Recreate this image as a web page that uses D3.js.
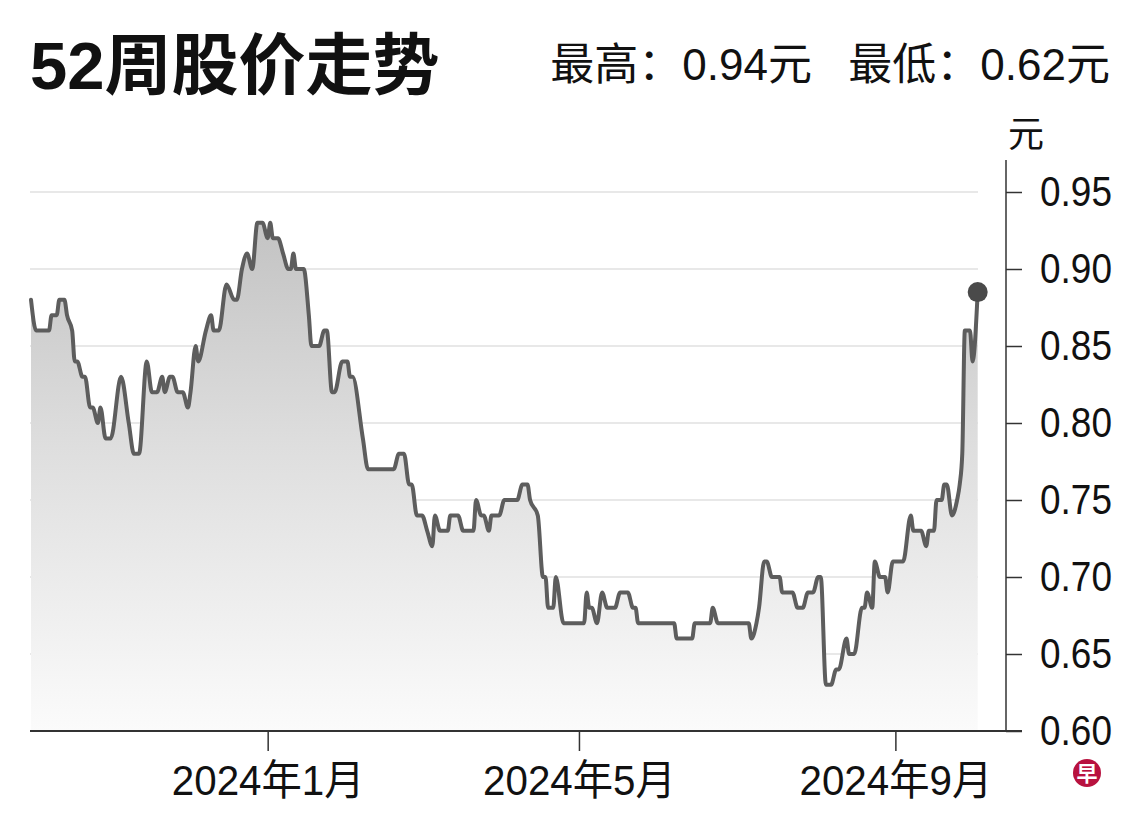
<!DOCTYPE html>
<html>
<head>
<meta charset="utf-8">
<script src="https://cdn.jsdelivr.net/npm/d3@7"></script>
<style>
body { margin: 0; background: #fff; }
svg { display: block; }
text { font-family: "Liberation Sans", "Noto Sans CJK SC", sans-serif; fill: #111; }
.title { font-weight: bold; }
</style>
</head>
<body>
<div class="chartContainer"></div>
<script>
var title = "52周股价走势";
var highLabel = "最高：0.94元", lowLabel = "最低：0.62元";
var unitLabel = "元";

var dates = ["2023-10-01","2023-10-03","2023-10-08","2023-10-09","2023-10-11","2023-10-12","2023-10-14","2023-10-15","2023-10-17","2023-10-18",
	"2023-10-19","2023-10-21","2023-10-22","2023-10-24","2023-10-25","2023-10-27","2023-10-28","2023-10-30","2023-11-01","2023-11-05",
	"2023-11-08","2023-11-10","2023-11-12","2023-11-15","2023-11-17","2023-11-19","2023-11-21","2023-11-22","2023-11-24","2023-11-25",
	"2023-11-27","2023-11-29","2023-12-01","2023-12-02","2023-12-04","2023-12-05","2023-12-08","2023-12-10","2023-12-11","2023-12-13",
	"2023-12-16","2023-12-19","2023-12-20","2023-12-22","2023-12-24","2023-12-26","2023-12-28","2023-12-30","2024-01-01","2024-01-02",
	"2024-01-03","2024-01-05","2024-01-07","2024-01-09","2024-01-10","2024-01-11","2024-01-12","2024-01-15","2024-01-17","2024-01-18",
	"2024-01-21","2024-01-23","2024-01-24","2024-01-26","2024-01-27","2024-01-30","2024-02-01","2024-02-02","2024-02-03","2024-02-07",
	"2024-02-09","2024-02-19","2024-02-21","2024-02-23","2024-02-25","2024-02-26","2024-02-28","2024-03-01","2024-03-03","2024-03-05",
	"2024-03-06","2024-03-08","2024-03-11","2024-03-12","2024-03-15","2024-03-17","2024-03-21","2024-03-22","2024-03-24","2024-03-25",
	"2024-03-27","2024-03-28","2024-03-31","2024-04-02","2024-04-07","2024-04-09","2024-04-11","2024-04-12","2024-04-15","2024-04-17",
	"2024-04-18","2024-04-19","2024-04-21","2024-04-22","2024-04-25","2024-05-03","2024-05-04","2024-05-05","2024-05-06","2024-05-08",
	"2024-05-10","2024-05-12","2024-05-15","2024-05-17","2024-05-20","2024-05-22","2024-05-23","2024-05-24","2024-06-07","2024-06-08",
	"2024-06-14","2024-06-15","2024-06-21","2024-06-22","2024-06-24","2024-07-06","2024-07-07","2024-07-09","2024-07-10","2024-07-12",
	"2024-07-13","2024-07-15","2024-07-18","2024-07-19","2024-07-23","2024-07-25","2024-07-27","2024-07-29","2024-07-31","2024-08-02",
	"2024-08-03","2024-08-05","2024-08-07","2024-08-09","2024-08-10","2024-08-13","2024-08-14","2024-08-16","2024-08-19","2024-08-20",
	"2024-08-21","2024-08-23","2024-08-24","2024-08-26","2024-08-28","2024-08-29","2024-08-31","2024-09-04","2024-09-07","2024-09-08",
	"2024-09-11","2024-09-13","2024-09-14","2024-09-16","2024-09-17","2024-09-19","2024-09-20","2024-09-21","2024-09-23","2024-09-25",
	"2024-09-26","2024-09-27","2024-09-28","2024-09-30","2024-10-01","2024-10-03"];

var closes = [0.88,0.86,0.86,0.87,0.87,0.88,0.88,0.87,0.86,0.84,
	0.84,0.83,0.83,0.81,0.81,0.80,0.81,0.79,0.79,0.83,
	0.80,0.78,0.78,0.84,0.82,0.82,0.83,0.82,0.83,0.83,
	0.82,0.82,0.81,0.82,0.85,0.84,0.86,0.87,0.86,0.86,
	0.89,0.88,0.88,0.90,0.91,0.90,0.93,0.93,0.92,0.93,
	0.92,0.92,0.91,0.90,0.90,0.91,0.90,0.90,0.87,0.85,
	0.85,0.86,0.86,0.82,0.82,0.84,0.84,0.83,0.83,0.79,
	0.77,0.77,0.78,0.78,0.76,0.76,0.74,0.74,0.73,0.72,
	0.74,0.73,0.73,0.74,0.74,0.73,0.73,0.75,0.74,0.74,
	0.73,0.74,0.74,0.75,0.75,0.76,0.76,0.75,0.74,0.70,
	0.70,0.68,0.68,0.70,0.67,0.67,0.69,0.68,0.68,0.67,
	0.69,0.68,0.68,0.69,0.69,0.68,0.68,0.67,0.67,0.66,
	0.66,0.67,0.67,0.68,0.67,0.67,0.66,0.67,0.68,0.71,
	0.71,0.70,0.70,0.69,0.69,0.68,0.68,0.69,0.69,0.70,
	0.70,0.63,0.63,0.64,0.64,0.66,0.65,0.65,0.68,0.68,
	0.69,0.68,0.71,0.70,0.70,0.69,0.71,0.71,0.74,0.73,
	0.73,0.72,0.73,0.73,0.75,0.75,0.76,0.76,0.74,0.75,
	0.76,0.78,0.86,0.86,0.84,0.885];

var yTicks = [0.60, 0.65, 0.70, 0.75, 0.80, 0.85, 0.90, 0.95];
var xTicks = ["2024-01-01", "2024-05-01", "2024-09-01"];
var xTickLabels = ["2024年1月", "2024年5月", "2024年9月"];
var xDomain = ["2023-10-01", "2024-10-14"];

var width = 1140, height = 821;
var narrow = 0.86;
var parse = d3.timeParse("%Y-%m-%d");

var data = dates.map(function(d, i) { return { date: parse(d), close: closes[i] }; });

var x = d3.scaleTime().domain(xDomain.map(parse)).range([31, 1006]);
var y = d3.scaleLinear().domain([0.60, 0.95]).range([731, 192]);

var svg = d3.select(".chartContainer").append("svg")
	.attr("width", width).attr("height", height);

// gradient under the line
var grad = svg.append("defs").append("linearGradient").attr("id", "fade")
	.attr("gradientUnits", "userSpaceOnUse")
	.attr("x1", 0).attr("y1", 215).attr("x2", 0).attr("y2", 731);
grad.append("stop").attr("offset", 0).attr("stop-color", "#c2c2c2");
grad.append("stop").attr("offset", 0.45).attr("stop-color", "#dedede");
grad.append("stop").attr("offset", 1).attr("stop-color", "#fbfbfb");

//  Titles
svg.append("text").attr("class", "title").attr("x", 30).attr("y", 89)
	.style("font-size", "67px").text(title);
svg.append("text").attr("x", 812).attr("y", 80).attr("text-anchor", "end")
	.style("font-size", "44px").text(highLabel);
svg.append("text").attr("x", 1110).attr("y", 80).attr("text-anchor", "end")
	.style("font-size", "44px").text(lowLabel);
svg.append("text").attr("x", 1026).attr("y", 147).attr("text-anchor", "middle")
	.style("font-size", "36px").text(unitLabel);

//  Gridlines
svg.append("g").selectAll("line").data(yTicks.slice(1)).enter().append("line")
	.attr("x1", 30).attr("x2", 978)
	.attr("y1", function(d) { return y(d); }).attr("y2", function(d) { return y(d); })
	.attr("stroke", "#e8e8e8").attr("stroke-width", 2);

//  Area and line
var area = d3.area().curve(d3.curveMonotoneX)
	.x(function(d) { return x(d.date); })
	.y0(y(0.60)).y1(function(d) { return y(d.close); });
var line = d3.line().curve(d3.curveMonotoneX)
	.x(function(d) { return x(d.date); })
	.y(function(d) { return y(d.close); });

svg.append("path").datum(data).attr("d", area).attr("fill", "url(#fade)");
svg.append("path").datum(data).attr("d", line).attr("fill", "none")
	.attr("stroke", "#5d5d5d").attr("stroke-width", 4)
	.attr("stroke-linejoin", "round").attr("stroke-linecap", "round");

var last = data[data.length - 1];
svg.append("circle").attr("cx", x(last.date)).attr("cy", y(last.close))
	.attr("r", 10).attr("fill", "#4a4a4a");

//  Axes
var xAxis = d3.axisBottom(x).tickValues(xTicks.map(parse)).tickSize(20).tickPadding(14)
	.tickFormat(function(d, i) { return xTickLabels[i]; });
var gx = svg.append("g").attr("transform", "translate(0," + y(0.60) + ")").call(xAxis);
gx.select(".domain").remove();
gx.selectAll(".tick line").attr("stroke", "#333").attr("stroke-width", 1.5);
gx.selectAll("text").attr("font-family", null).attr("font-size", null)
	.style("font-size", "42px").attr("fill", "#111")
	.attr("transform", "scale(0.96,1)");

var yAxis = d3.axisRight(y).tickValues(yTicks).tickSize(16).tickPadding(18)
	.tickFormat(d3.format(".2f"));
var gy = svg.append("g").attr("transform", "translate(1006,0)").call(yAxis);
gy.select(".domain").remove();
gy.selectAll(".tick line").attr("stroke", "#333").attr("stroke-width", 1.5);
gy.selectAll("text").attr("font-family", null).attr("font-size", null)
	.style("font-size", "43px").attr("fill", "#111")
	.attr("x", 34 / narrow).attr("transform", "scale(" + narrow + ",1)");

svg.append("line").attr("x1", 30).attr("x2", 1022).attr("y1", y(0.60)).attr("y2", y(0.60))
	.attr("stroke", "#333").attr("stroke-width", 2);
svg.append("line").attr("x1", 1006).attr("x2", 1006).attr("y1", 160).attr("y2", y(0.60))
	.attr("stroke", "#333").attr("stroke-width", 1.5);

//  Logo
svg.append("circle").attr("cx", 1087).attr("cy", 773).attr("r", 14).attr("fill", "#b8123f");
svg.append("text").attr("x", 1087).attr("y", 781).attr("text-anchor", "middle")
	.style("font-size", "21px").style("font-weight", "bold").style("fill", "#fff").text("早");
</script>
</body>
</html>
